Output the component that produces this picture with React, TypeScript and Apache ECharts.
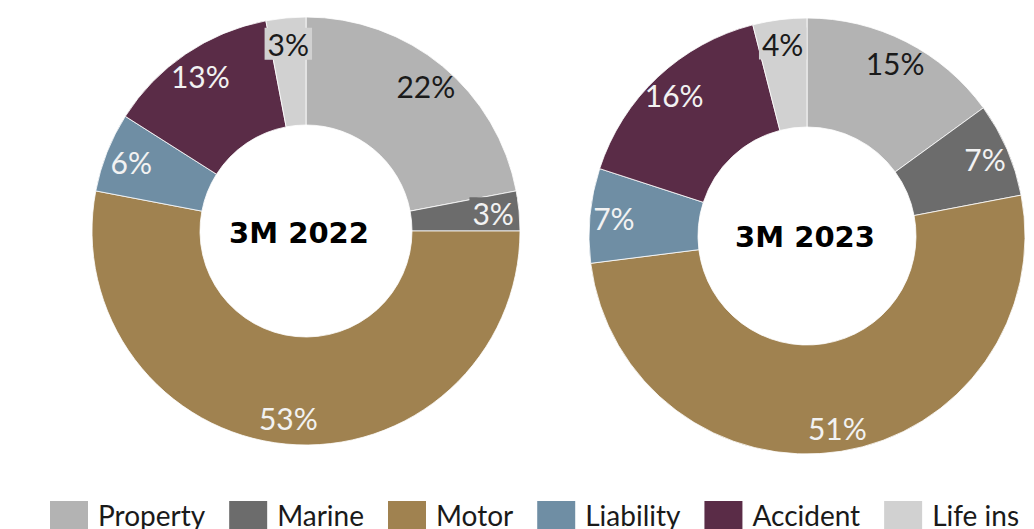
import React, { useEffect, useRef } from "react";
import * as echarts from "echarts";

const categories = ["Property", "Marine", "Motor", "Liability", "Accident", "Life ins"];
const values2022 = [22, 3, 53, 6, 13, 3];
const values2023 = [15, 7, 51, 7, 16, 4];
const titles = ["3M 2022", "3M 2023"];
const colors = ["#b3b3b3", "#6c6c6c", "#a08250", "#6f8ea4", "#5a2c47", "#d1d1d1"];
const labelColors = ["#1a1a1a", "#f2f2f2", "#f2f2f2", "#f2f2f2", "#f2f2f2", "#1a1a1a"];

const FONT = "Lato, 'Noto Sans', sans-serif";

function mainPie(values: number[], center: number[], radius: number[]) {
  return {
    type: "pie",
    center,
    radius,
    startAngle: 90,
    clockwise: true,
    silent: true,
    label: { show: false },
    labelLine: { show: false },
    itemStyle: { borderColor: "#ffffff", borderWidth: 0.8 },
    data: categories.map((name, i) => ({
      name,
      value: values[i],
      itemStyle: { color: colors[i] },
    })),
  };
}

function labelPie(values: number[], center: number[], radius: number[]) {
  return {
    type: "pie",
    center,
    radius,
    startAngle: 90,
    clockwise: true,
    silent: true,
    labelLine: { show: false },
    itemStyle: { color: "rgba(0,0,0,0)", borderWidth: 0 },
    label: {
      show: true,
      position: "inside",
      formatter: "{c}%",
      fontFamily: FONT,
      fontSize: 30,
    },
    data: categories.map((name, i) => ({
      name,
      value: values[i],
      label: {
        color: labelColors[i],
        backgroundColor: values[i] <= 4 ? colors[i] : "transparent",
        padding: [2, 3, 0, 3],
      },
    })),
  };
}

export default function App() {
  const ref = useRef<HTMLDivElement>(null);
  useEffect(() => {
    if (!ref.current) return;
    const chart = echarts.init(ref.current, undefined, { renderer: "svg" });
    const c1 = [306, 231];
    const c2 = [807, 236];
    chart.setOption({
      animation: false,
      backgroundColor: "#ffffff",
      legend: {
        data: categories,
        left: 48,
        top: 499,
        padding: 0,
        itemWidth: 40,
        itemHeight: 30,
        itemGap: 22,
        icon: "rect",
        selectedMode: false,
        textStyle: {
          fontFamily: FONT,
          fontSize: 28,
          color: "#1a1a1a",
          padding: [0, 0, 0, 4],
        },
      },
      graphic: [
        {
          type: "text",
          x: 299,
          y: c1[1] + 2,
          style: {
            text: titles[0],
            fontFamily: "'DejaVu Sans', sans-serif",
            fontWeight: "bold",
            fontSize: 29,
            fill: "#000000",
            textAlign: "center",
            textVerticalAlign: "middle",
          },
        },
        {
          type: "text",
          x: 805,
          y: c2[1] + 1,
          style: {
            text: titles[1],
            fontFamily: "'DejaVu Sans', sans-serif",
            fontWeight: "bold",
            fontSize: 29,
            fill: "#000000",
            textAlign: "center",
            textVerticalAlign: "middle",
          },
        },
      ],
      series: [
        mainPie(values2022, c1, [106, 214]),
        mainPie(values2023, c2, [109, 218]),
        labelPie(values2022, c1, [168, 202]),
        labelPie(values2023, c2, [174, 208]),
      ],
    });
    return () => chart.dispose();
  }, []);
  return (
    <div
      style={{
        position: "fixed",
        left: 0,
        top: 0,
        width: 1034,
        height: 529,
        overflow: "hidden",
        background: "#fff",
      }}
    >
      <div ref={ref} style={{ width: 1120, height: 560 }} />
    </div>
  );
}
